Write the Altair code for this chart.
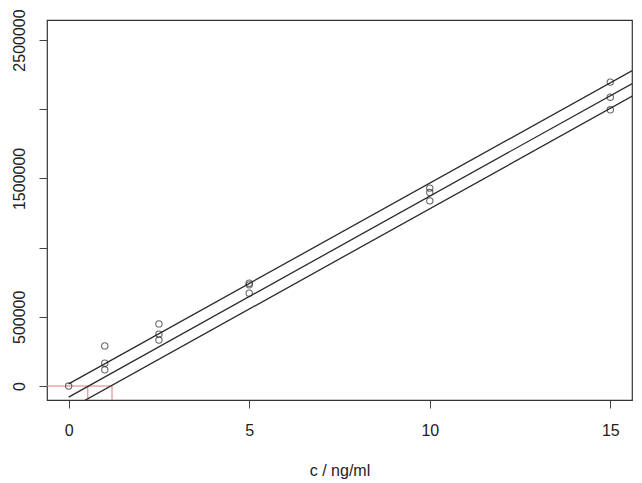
import altair as alt
import pandas as pd

# measured calibration points
conc = [0, 1, 1, 1, 2.5, 2.5, 2.5, 5, 5, 5, 10, 10, 10, 15, 15, 15]
response = [0, 290000, 165000, 117000, 449000, 375000, 332000,
            743000, 731000, 671000, 1430000, 1398000, 1338000,
            2196000, 2087000, 1996000]

# regression line and bands (end points)
line_x = [0, 16]
upper_y = [16000, 2336000]
mid_y = [-80000, 2243000]
lower_y = [-169000, 2151000]

# red limit-of-detection guides
red_h_x = [-1, 1.2]
red_h_y = [0, 0]
red_v_x = [0.53, 1.2]
red_v_top = [0, 0]
red_v_bottom = [-300000, -300000]

x_ticks = [0, 5, 10, 15]
y_ticks = [0, 500000, 1000000, 1500000, 2000000, 2500000]
y_hidden = [1000000, 2000000]

pts = pd.DataFrame({"c": conc, "r": response})
lines = pd.DataFrame({
    "c": line_x * 3,
    "r": upper_y + mid_y + lower_y,
    "s": ["upper"] * 2 + ["mid"] * 2 + ["lower"] * 2,
})
red_h = pd.DataFrame({"c": red_h_x, "r": red_h_y})
red_v = pd.DataFrame({"c": red_v_x, "r": red_v_top, "r2": red_v_bottom})

FONT = "Liberation Sans"
xs = alt.Scale(domain=[-0.6, 15.6], nice=False, zero=False)
ys = alt.Scale(domain=[-101000, 2644700], nice=False, zero=False)

hidden_expr = " || ".join(f"datum.value == {v}" for v in y_hidden)

x_axis = alt.Axis(
    values=x_ticks, domain=False, grid=False, tickSize=8, tickColor="#444",
    labelFont=FONT, labelFontSize=16, labelColor="#222",
    labelBaseline="alphabetic", labelPadding=27, labelFlush=False,
    title="c / ng/ml", titleFont=FONT, titleFontSize=16,
    titleFontWeight="normal", titleColor="#222",
    titleBaseline="alphabetic", titleY=75, titleX=292.5, titleAlign="center",
)
y_axis = alt.Axis(
    values=y_ticks, format="d", domain=False, grid=False, tickSize=8,
    tickColor="#444", labelFont=FONT, labelFontSize=16, labelColor="#222",
    labelAngle=270, labelAlign="center", labelBaseline="alphabetic",
    labelPadding=15, labelFlush=False, labelOverlap=False,
    labelExpr=f"({hidden_expr}) ? '' : datum.label",
    title=None,
)

base_x = alt.X("c:Q", scale=xs, axis=x_axis)
base_y = alt.Y("r:Q", scale=ys, axis=y_axis)

red_h_layer = alt.Chart(red_h).mark_line(
    color="#e07a7a", strokeWidth=1, clip=True
).encode(x=alt.X("c:Q", scale=xs), y=alt.Y("r:Q", scale=ys))

red_v_layer = alt.Chart(red_v).mark_rule(
    color="#e07a7a", strokeWidth=1, clip=True
).encode(x=alt.X("c:Q", scale=xs), y=alt.Y("r:Q", scale=ys), y2="r2:Q")

line_layer = alt.Chart(lines).mark_line(
    color="#2a2a2a", strokeWidth=1.3, clip=True
).encode(x=alt.X("c:Q", scale=xs), y=alt.Y("r:Q", scale=ys), detail="s:N")

pt_layer = alt.Chart(pts).mark_point(
    shape="circle", filled=False, color="#2a2a2a", size=40, strokeWidth=1.1
).encode(x=base_x, y=base_y)

chart = alt.layer(red_h_layer, red_v_layer, line_layer, pt_layer).properties(
    width=585, height=380,
    autosize=alt.AutoSizeParams(type="none"),
    padding={"left": 39, "top": 12, "right": 2, "bottom": 79},
    background="white",
).configure_view(stroke="#333", strokeWidth=1.2)

chart.save("out.html", embed_options={"renderer": "svg", "actions": False})
